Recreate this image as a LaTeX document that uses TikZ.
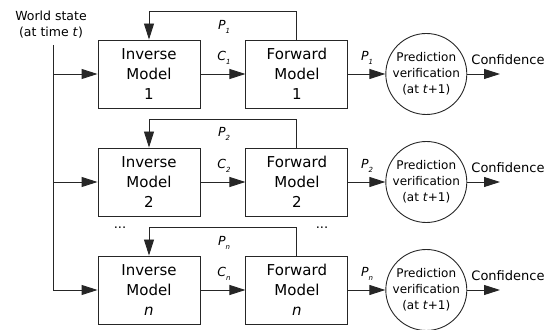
\documentclass[tikz,border=0pt]{standalone}
\usepackage{fontspec}
\setmainfont{DejaVu Sans}
\usepackage{tikz}
\usetikzlibrary{positioning}
\usetikzlibrary{arrows.meta}

\newcommand{\idx}[1]{\raisebox{-4pt}{\fontsize{7}{7}\selectfont #1}}

\tikzset{
  model/.style={draw=black!85,line width=0.9pt,minimum width=102pt,minimum height=68pt,
    inner sep=0pt,align=center,font=\fontsize{15}{20}\selectfont},
  verify/.style={draw=black!85,circle,line width=0.9pt,minimum size=81pt,inner sep=0pt,
    align=center,font=\fontsize{12}{16}\selectfont},
  flow/.style={draw=black!85,line width=0.9pt,-{Triangle[length=16pt,width=10pt]}},
  sig/.style={font=\fontsize{12.5}{14}\selectfont\itshape},
  txt/.style={font=\fontsize{13}{16}\selectfont}
}

\begin{document}
\begin{tikzpicture}[x=1pt,y=1pt]
            \useasboundingbox (0,0) rectangle (551,329);

            \node[model] (inv1) at (149,255) {Inverse\\Model\\1};
            \node[model,right=45pt of inv1] (fwd1) {Forward\\Model\\1};
            \node[verify,right=37pt of fwd1] (ver1) {Prediction\\verification\\(at \textit{t}+1)};

            \node[model] (inv2) at (149,147) {Inverse\\Model\\2};
            \node[model,right=45pt of inv2] (fwd2) {Forward\\Model\\2};
            \node[verify,right=37pt of fwd2] (ver2) {Prediction\\verification\\(at \textit{t}+1)};

            \node[model] (invn) at (149,39) {Inverse\\Model\\\textit{n}};
            \node[model,right=45pt of invn] (fwdn) {Forward\\Model\\\textit{n}};
            \node[verify,right=37pt of fwdn] (vern) {Prediction\\verification\\(at \textit{t}+1)};

            \node[txt,align=center,font=\fontsize{12.5}{16}\selectfont] (world) at (51,304) {World state\\(at time \textit{t})};
            \coordinate (ws) at (53,284);

            \coordinate (out1) at (500,255);
            \coordinate (out2) at (500,147);
            \coordinate (outn) at (500,39);

            \draw[draw=black!85,line width=0.9pt] (ws) -- (ws |- invn);
            \draw[flow] (ws |- inv1) -- (inv1);
            \draw[flow] (ws |- inv2) -- (inv2);
            \draw[flow] (ws |- invn) -- (invn);

            \draw[flow] (inv1) -- (fwd1);
            \draw[flow] (inv2) -- (fwd2);
            \draw[flow] (invn) -- (fwdn);

            \draw[flow] (fwd1) -- (ver1);
            \draw[flow] (fwd2) -- (ver2);
            \draw[flow] (fwdn) -- (vern);

            \draw[flow] (ver1) -- (out1);
            \draw[flow] (ver2) -- (out2);
            \draw[flow] (vern) -- (outn);

            \draw[flow] (fwd1.north) -- ++(0,28) -| (inv1.north);
            \draw[flow] (fwd2.north) -- ++(0,28) -| (inv2.north);
            \draw[flow] (fwdn.north) -- ++(0,28) -| (invn.north);

            \node[sig] (p1top) at (224,302) {P\idx{1}};
            \node[sig] (p2top) at (224,195) {P\idx{2}};
            \node[sig] (pntop) at (224,86) {P\idx{n}};

            \node[sig] (c1) at (224,271) {C\idx{1}};
            \node[sig] (c2) at (224,163) {C\idx{2}};
            \node[sig] (cn) at (224,55) {C\idx{n}};

            \node[sig] (p1) at (367,271) {P\idx{1}};
            \node[sig] (p2) at (367,163) {P\idx{2}};
            \node[sig] (pn) at (367,55) {P\idx{n}};

            \node[txt] (conf1) at (508,269) {Confidence};
            \node[txt] (conf2) at (508,161) {Confidence};
            \node[txt] (confn) at (508,53) {Confidence};

            \node[txt] (dots1) at (120,101) {...};
            \node[txt] (dots2) at (322,101) {...};
          \end{tikzpicture}
\end{document}
